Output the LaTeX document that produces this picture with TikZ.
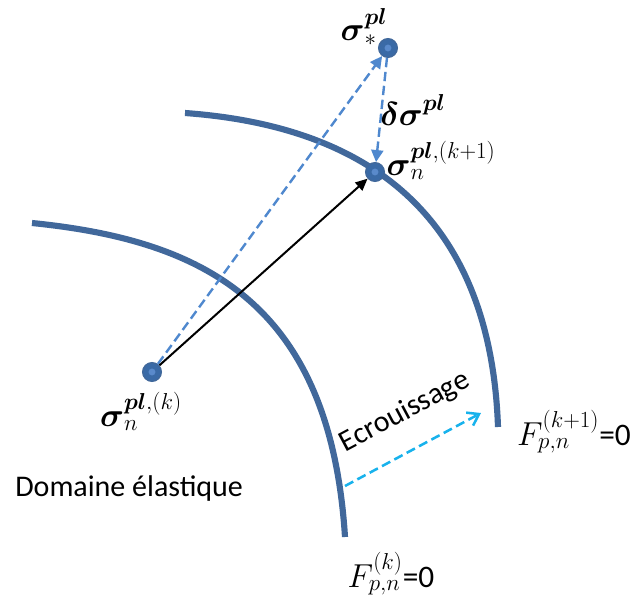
\documentclass[tikz,border=0pt]{standalone}
\usepackage{amsmath}
\usepackage{fontspec}
\setmainfont{Carlito}
\usetikzlibrary{arrows.meta}
\definecolor{curveblue}{HTML}{41689B}
\definecolor{dashblue}{HTML}{4F88CE}
\definecolor{dotblue}{HTML}{3A6AA6}
\definecolor{dotin}{HTML}{5A8ACB}
\definecolor{cyanarr}{HTML}{18B2EC}
\tikzset{
  surf/.style={draw=curveblue, line width=4.6pt},
  ptdot/.style={circle, fill=dotblue, draw=curveblue, line width=1pt, minimum size=14pt, inner sep=0pt,
    path picture={\fill[dotin] (path picture bounding box.center) circle (2.6pt);}},
  bluedash/.style={draw=dashblue, line width=1.8pt, dash pattern=on 7pt off 3.5pt, -{Triangle[length=9pt,width=9pt]}},
  blackarr/.style={draw=black, line width=1.5pt, -{Triangle[length=9pt,width=8pt]}},
  cyandash/.style={draw=cyanarr, line width=1.9pt, dash pattern=on 7pt off 3.5pt, -{Straight Barb[length=8pt,width=11pt]}},
  lab/.style={inner sep=0pt, font=\fontsize{23.5}{26}\selectfont},
  txt/.style={inner sep=0pt, font=\fontsize{22.5}{26}\selectfont},
}
\begin{document}
\begin{tikzpicture}[x=0.75pt,y=-0.75pt]
\useasboundingbox (0,0) rectangle (631,603);
% yield surfaces
\draw[surf] (32,223) .. controls (200,240) and (330,300) .. (345,537);
\draw[surf] (185,113) .. controls (350,125) and (490,200) .. (498,427);
% points
\node[ptdot] (sk) at (152,372) {};
\node[ptdot] (sst) at (388,48) {};
\node[ptdot] (sk1) at (375,172) {};
% arrows
\draw[bluedash] (sk) -- (sst);
\draw[bluedash] (sst) -- (sk1);
\draw[blackarr] (sk) -- (sk1);
\coordinate (ea) at (345,486);
\coordinate (eb) at (481,413);
\draw[cyandash] (ea) -- (eb);
% labels
\node[lab] (lst) at (364,27) {$\boldsymbol{\sigma}_{*}^{\boldsymbol{pl}}$};
\node[lab] (ldel) at (413,110) {$\boldsymbol{\delta\sigma}^{\boldsymbol{pl}}$};
\node[lab] (lk1) at (441,160) {$\boldsymbol{\sigma}_{n}^{\boldsymbol{pl},(k+1)}$};
\node[lab] (lk) at (141,411) {$\boldsymbol{\sigma}_{n}^{\boldsymbol{pl},(k)}$};
\node[lab] (fk1) at (574,432) {$F_{p,n}^{(k+1)}$=0};
\node[lab] (fk) at (391,574) {$F_{p,n}^{(k)}$=0};
\node[txt, anchor=base west] (dom) at (15,496) {Domaine élastique};
\node[txt, rotate=28] (ecr) at (405,412) {Ecrouissage};
\end{tikzpicture}
\end{document}
